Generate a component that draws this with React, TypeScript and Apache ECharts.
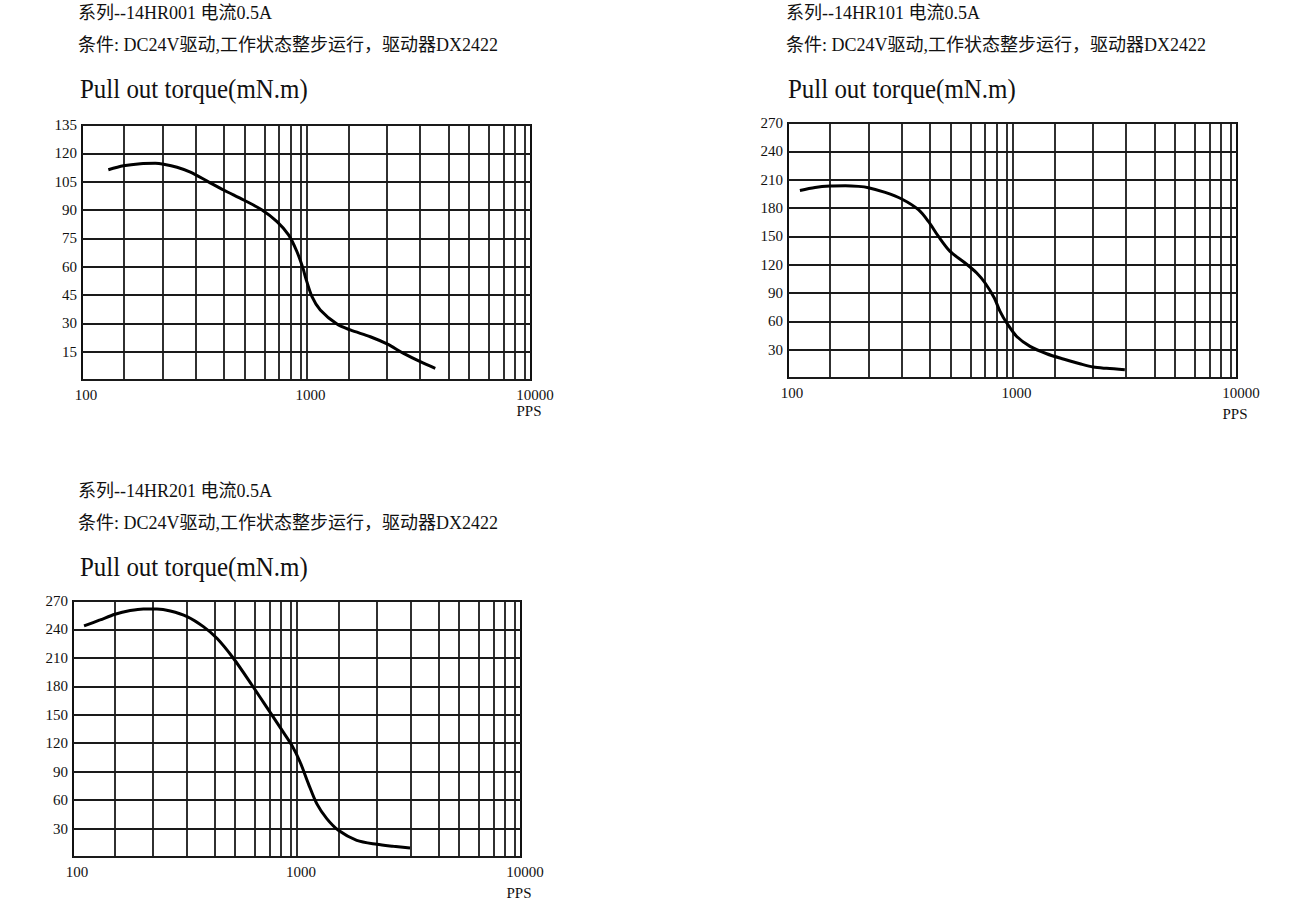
import React, { useEffect, useRef } from "react";
import * as echarts from "echarts";

// Vertical grid lines of the printed log paper (PPS values)
const gridPps = [154, 228, 321, 430, 530, 649, 753, 847, 938, 1000, 1540, 2280, 3210, 4300, 5300, 6490, 7530, 8470, 9380];

// Chart 1: 14HR001
const c1Pps = [131, 153, 182, 212, 231, 265, 304, 361, 427, 525, 634, 739, 832, 907, 965, 988, 1058, 1152, 1367, 1567, 1924, 2284, 2707, 3213, 3747];
const c1Torque = [111.3, 113.4, 114.5, 114.7, 114.2, 112.6, 110.0, 105.3, 100.6, 95.3, 90.0, 83.8, 76.8, 67.9, 59.1, 54.7, 44.1, 37.1, 29.6, 26.5, 22.9, 19.1, 14.1, 9.7, 6.2];

// Chart 2: 14HR101
const c2Pps = [113, 132, 154, 180, 206, 228, 271, 321, 381, 422, 468, 527, 615, 693, 755, 830, 880, 943, 1044, 1197, 1420, 1683, 1996, 2288, 2624, 3165];
const c2Torque = [198.6, 201.8, 203.3, 203.6, 202.9, 201.5, 196.5, 189.5, 178.2, 165.8, 149.9, 134.1, 121.8, 111.2, 100.6, 84.7, 70.5, 58.2, 44.0, 33.5, 25.7, 20.1, 15.1, 11.6, 10.2, 8.8];

// Chart 3: 14HR201
const c3Pps = [112, 132, 154, 180, 206, 237, 272, 323, 382, 439, 520, 629, 746, 855, 948, 1032, 1124, 1225, 1358, 1530, 1848, 2270, 2692, 3196];
const c3Torque = [243.7, 250.0, 256.0, 259.9, 261.6, 261.6, 259.5, 253.6, 243.0, 230.7, 209.6, 181.4, 155.1, 134.0, 117.8, 100.2, 77.4, 56.3, 40.5, 28.2, 17.6, 13.4, 11.3, 9.5];

const yMax = [135, 270, 270];
const yStep = [15, 30, 30];
const xTicks = [100, 1000, 10000];

const seriesNames = ["14HR001", "14HR101", "14HR201"];
const titleLine1 = ["系列--14HR001 电流0.5A", "系列--14HR101 电流0.5A", "系列--14HR201 电流0.5A"];
const titleLine2 = "条件: DC24V驱动,工作状态整步运行，驱动器DX2422";
const titleLine3 = "Pull out torque(mN.m)";
const xName = "PPS";

const FONT = "'Liberation Serif', 'Noto Sans CJK SC', serif";

export default function App() {
  const ref = useRef<HTMLDivElement>(null);
  useEffect(() => {
    if (!ref.current) return;
    const chart = echarts.init(ref.current, null, { renderer: "svg" });

    const grids = [
      { left: 82, top: 125, width: 449, height: 255 },
      { left: 788, top: 123, width: 449, height: 255 },
      { left: 73, top: 601, width: 448, height: 256 },
    ];
    const datasets = [
      c1Pps.map((x, i) => [x, c1Torque[i]]),
      c2Pps.map((x, i) => [x, c2Torque[i]]),
      c3Pps.map((x, i) => [x, c3Torque[i]]),
    ];
    const titlePos = [
      { x: 78, y: 13 },
      { x: 786, y: 13 },
      { x: 78, y: 491 },
    ];

    const graphic: any[] = [];
    titlePos.forEach((p, i) => {
      graphic.push({
        type: "text",
        x: p.x,
        y: p.y,
        style: { text: titleLine1[i], fill: "#111", fontSize: 18, fontFamily: FONT, verticalAlign: "middle" },
      });
      graphic.push({
        type: "text",
        x: p.x,
        y: p.y + 32,
        style: { text: titleLine2, fill: "#111", fontSize: 18, fontFamily: FONT, verticalAlign: "middle" },
      });
      graphic.push({
        type: "text",
        x: p.x + 2,
        y: p.y + 75,
        scaleX: 0.89,
        style: { text: titleLine3, fill: "#111", fontSize: 28, fontFamily: FONT, verticalAlign: "middle" },
      });
      const g = grids[i];
      graphic.push({
        type: "text",
        x: g.left + g.width - 2,
        y: g.top + g.height + (i === 0 ? 31 : 36),
        style: { text: xName, fill: "#111", fontSize: 15, fontFamily: FONT, align: "center", verticalAlign: "middle" },
      });
    });

    chart.setOption({
      animation: false,
      backgroundColor: "#fff",
      grid: grids.map((g) => ({ ...g, show: true, borderColor: "#111", borderWidth: 2, backgroundColor: "transparent" })),
      xAxis: grids.map((_, i) => ({
        type: "log",
        logBase: 10,
        gridIndex: i,
        min: xTicks[0],
        max: xTicks[xTicks.length - 1],
        axisLine: { show: false },
        axisTick: { show: false },
        splitLine: { show: false },
        axisLabel: {
          show: true,
          margin: 7,
          padding: [0, 0, 0, 8],
          color: "#111",
          fontSize: 15,
          fontFamily: FONT,
          showMinLabel: true,
          showMaxLabel: true,
          formatter: (v: number) => String(Math.round(v)),
        },
      })),
      yAxis: grids.map((_, i) => ({
        type: "value",
        gridIndex: i,
        min: 0,
        max: yMax[i],
        interval: yStep[i],
        axisLine: { show: false },
        axisTick: { show: false },
        splitLine: { show: true, lineStyle: { color: "#1a1a1a", width: 1.8 } },
        axisLabel: {
          margin: 5,
          color: "#111",
          fontSize: 15,
          fontFamily: FONT,
          formatter: (v: number) => (v === 0 ? "" : String(v)),
        },
      })),
      graphic,
      series: datasets.map((d, i) => ({
        name: seriesNames[i],
        type: "line",
        xAxisIndex: i,
        yAxisIndex: i,
        data: d,
        smooth: 0.3,
        showSymbol: false,
        symbol: "none",
        lineStyle: { color: "#000", width: 3 },
        z: 5,
        markLine: {
          silent: true,
          symbol: "none",
          label: { show: false },
          lineStyle: { color: "#1a1a1a", width: 1.8, type: "solid" },
          data: gridPps.map((v) => ({ xAxis: v })),
          z: 2,
        },
      })),
    });

    return () => chart.dispose();
  }, []);

  return (
    <div
      ref={ref}
      style={{ position: "fixed", left: 0, top: 0, width: 1300, height: 900, background: "#fff" }}
    />
  );
}
